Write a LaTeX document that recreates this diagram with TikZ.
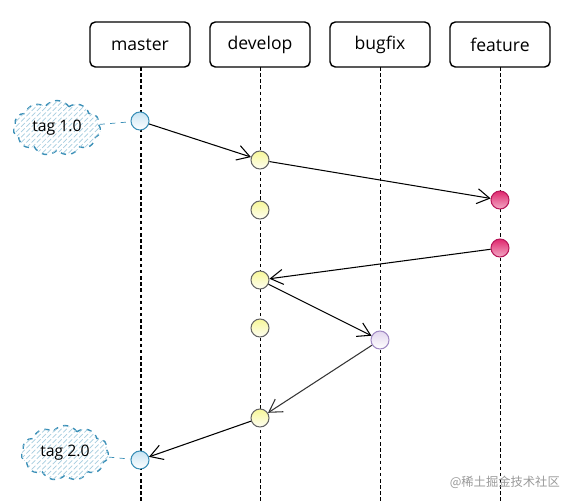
\documentclass[tikz,border=0pt]{standalone}
\usepackage{fontspec}
\setmainfont{Open Sans}
\newfontfamily\cjk{Noto Sans CJK SC}
\usetikzlibrary{arrows.meta,shapes.symbols,patterns,positioning}
\definecolor{tagblue}{HTML}{3A8FB7}
\definecolor{masterfill}{HTML}{B9DDF0}
\definecolor{devfill}{HTML}{F6F68C}
\definecolor{featfill}{HTML}{E0286E}
\definecolor{featline}{HTML}{B8185A}
\definecolor{bugfill}{HTML}{E2D6EE}
\definecolor{bugline}{HTML}{A18BC4}
\tikzset{
  branch/.style={draw=black, thick, rounded corners=3pt, fill=white, minimum width=2cm, minimum height=0.9cm, font=\normalsize},
  life/.style={black, thin, dash pattern=on 2pt off 1.5pt},
  commit/.style={circle, minimum size=0.36cm, inner sep=0pt, semithick},
  mastercommit/.style={commit, draw=tagblue, top color=masterfill!80, bottom color=white},
  devcommit/.style={commit, draw=black!60, top color=devfill!90, bottom color=white!90!devfill},
  featcommit/.style={commit, draw=featline, top color=featfill, bottom color=white!60!featfill},
  bugcommit/.style={commit, draw=bugline, top color=bugfill, bottom color=white},
  merge/.style={-{Straight Barb[length=2.5mm,width=3mm]}, semithick},
  tag/.style={cloud, cloud puffs=11, cloud puff arc=110, aspect=1.6, draw=tagblue, dashed, thick, fill=white,
    postaction={pattern=north east lines, pattern color=tagblue!45}, minimum width=1.75cm, minimum height=1.1cm,
    inner sep=0pt, font=\small},
  taglink/.style={dashed, tagblue}
}

\begin{document}
\begin{tikzpicture}[x=0.02cm, y=0.02cm]
  \useasboundingbox (0,0) rectangle (571,501);
  % branches and their lifelines
  \foreach \name/\lbl/\x in {master/master/140, develop/develop/260, bugfix/bugfix/380, feature/feature/500}{
    \draw[life] (\x,434) -- (\x,0);
    \node[branch] (\name) at (\x,456.5) {\lbl};
  }
  \draw[life] (141.5,434) -- (141.5,0);
  % commits
  \node[mastercommit] (c1) at (140,380) {};
  \node[devcommit] (d1) at (260,341) {};
  \node[featcommit] (f1) at (500,301) {};
  \node[devcommit] (d2) at (260,291) {};
  \node[featcommit] (f2) at (500,253) {};
  \node[devcommit] (d3) at (260,221) {};
  \node[devcommit] (d4) at (260,173) {};
  \node[bugcommit] (b1) at (380,161) {};
  \node[devcommit] (d5) at (260,83) {};
  \node[mastercommit] (c2) at (140,41) {};
  % merges
  \draw[merge] (c1) -- (d1);
  \draw[merge] (d1) -- (f1);
  \draw[merge] (f2) -- (d3);
  \draw[merge] (d3) -- (b1);
  \draw[merge, black!80] (b1) -- (d5);
  \draw[merge] (d5) -- (c2);
  % tags
  \node[tag] (t1) at (57,373) {tag 1.0};
  \node[tag] (t2) at (65,48) {tag 2.0};
  \draw[taglink] (t1) -- (c1);
  \draw[taglink] (t2) -- (c2);
  \node[text=black!40, font=\cjk\scriptsize, anchor=east] (wm) at (566,19) {@稀土掘金技术社区};
\end{tikzpicture}
\end{document}
